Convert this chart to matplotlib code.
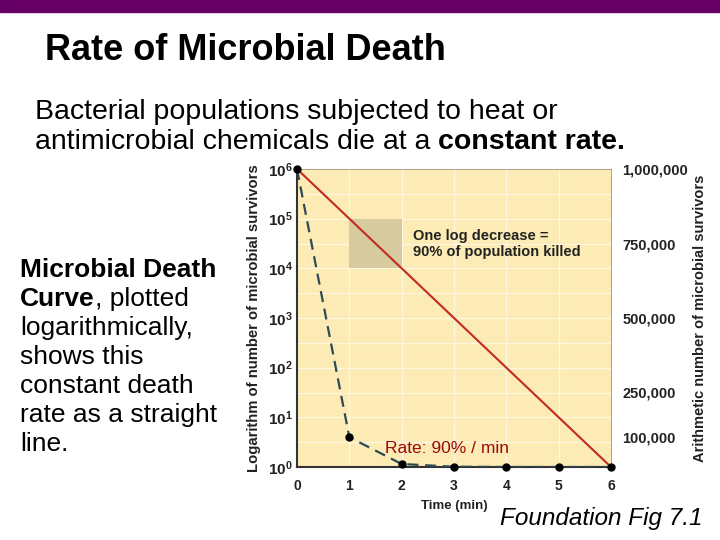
import numpy as np
import matplotlib
matplotlib.use("Agg")
from matplotlib import pyplot as plt
from matplotlib.patches import Rectangle

# data
time_min = [0, 1, 2, 3, 4, 5, 6]
log_survivors = [1e6, 1e5, 1e4, 1e3, 1e2, 1e1, 1e0]      # red line, log axis
arith_survivors = [1e6, 1e5, 1e4, 1e3, 1e2, 1e1, 1e0]    # blue dashed curve, linear axis
left_ticks = [1e0, 1e1, 1e2, 1e3, 1e4, 1e5, 1e6]
right_ticks = [100000, 250000, 500000, 750000, 1000000]
right_labels = ["100,000", "250,000", "500,000", "750,000", "1,000,000"]

W, H = 720, 540
plt.rcParams['font.family'] = ['Liberation Sans', 'DejaVu Sans']
plt.rcParams['mathtext.fontset'] = 'custom'
plt.rcParams['mathtext.bf'] = 'Liberation Sans:bold'
plt.rcParams['mathtext.rm'] = 'Liberation Sans'
fig = plt.figure(figsize=(W / 100, H / 100), dpi=100)

def px(x, y):
    return x / W, 1 - y / H

# purple bar on top of the slide
fig.patches.append(Rectangle((0, 1 - 12 / H), 1, 12 / H, transform=fig.transFigure,
                             color='#660066', zorder=0))

# chart
ax = fig.add_axes([297 / W, 1 - 467 / H, 314 / W, 298 / H])
ax.set_facecolor('#FCEBB5')
ax.set_yscale('log')
ax.set_xlim(0, 6)
ax.set_ylim(1, 1e6)

for k in range(13):
    ax.axhline(10 ** (k / 2), color='#FFF7E0', lw=0.9, zorder=1)
for t in time_min[1:-1]:
    ax.axvline(t, color='#FFF7E0', lw=0.9, zorder=1)

ax.add_patch(Rectangle((1, 1e4), 1, 9e4, color='#D6CA9E', zorder=2, lw=0))

ax.plot(time_min, log_survivors, color='#C42A1E', lw=1.5, zorder=4)

ax.set_xticks(time_min)
ax.set_xticklabels([str(t) for t in time_min], fontweight='bold', fontsize=10, color='#222222')
ax.set_yticks(left_ticks)
ax.set_yticklabels([r'$\mathbf{10^{%d}}$' % int(np.log10(v)) for v in left_ticks],
                   fontsize=11, color='#222222')
ax.yaxis.set_minor_locator(matplotlib.ticker.NullLocator())
ax.tick_params(axis='y', length=0, pad=3)
ax.tick_params(axis='x', length=0, pad=9)
ax.set_xlabel('Time (min)', fontweight='bold', fontsize=9.5, color='#222222', labelpad=5)
ax.set_ylabel('Logarithm of number of microbial survivors', fontweight='bold',
              fontsize=10.7, color='#222222', labelpad=5)
for s in ['left', 'bottom']:
    ax.spines[s].set_color('#333333')
    ax.spines[s].set_linewidth(1.5)
for s in ['top', 'right']:
    ax.spines[s].set_color('#A09070')
    ax.spines[s].set_linewidth(0.6)

ax.text(2.22, 10 ** 4.8, 'One log decrease =\n90% of population killed', fontsize=10.5,
        fontweight='bold', color='#222222', va='top', linespacing=1.2, zorder=5)
ax.text(1.68, 10 ** 0.28, 'Rate: 90% / min', fontsize=12.5, color='#9B0A0A', zorder=5)

ax2 = ax.twinx()
ax2.set_ylim(0, 1e6)
ax2.plot(time_min, arith_survivors, color='#2E4A58', lw=1.6, ls=(0, (5, 3)), zorder=3)
ax2.plot(time_min, arith_survivors, 'o', color='black', ms=5, zorder=6, clip_on=False)
ax2.set_yticks(right_ticks)
ax2.set_yticklabels(right_labels, fontweight='bold', fontsize=10.5, color='#222222')
ax2.tick_params(length=0, pad=8)
ax2.set_ylabel('Arithmetic number of microbial survivors', fontweight='bold',
               fontsize=10.5, color='#222222', labelpad=4)
for s in ax2.spines.values():
    s.set_visible(False)

# slide text
fig.text(*px(45, 51), 'Rate of Microbial Death', fontsize=26, fontweight='bold',
         va='center', ha='left')
fig.text(*px(35, 112), 'Bacterial populations subjected to heat or', fontsize=20.5,
         va='center', ha='left')
t1 = fig.text(*px(35, 142), 'antimicrobial chemicals die at a ', fontsize=20.5,
              va='center', ha='left')

left_lines = ['logarithmically,', 'shows this', 'constant death',
              'rate as a straight', 'line.']
t2 = fig.text(*px(20, 270), 'Microbial Death', fontsize=19, fontweight='bold',
              va='center', ha='left')
t3 = fig.text(*px(20, 299), 'Curve', fontsize=19, fontweight='bold',
              va='center', ha='left')
for i, line in enumerate(left_lines):
    fig.text(*px(20, 328 + 29 * i), line, fontsize=19, va='center', ha='left')

fig.text(*px(500, 518), 'Foundation Fig 7.1', fontsize=17.5, style='italic',
         va='center', ha='left')

fig.canvas.draw()
r = fig.canvas.get_renderer()
e1 = t1.get_window_extent(r)
fig.text(e1.x1 / W, 1 - 142 / H, 'constant rate.', fontsize=20.5, fontweight='bold',
         va='center', ha='left')
e3 = t3.get_window_extent(r)
fig.text(e3.x1 / W, 1 - 299 / H, ', plotted', fontsize=19, va='center', ha='left')

fig.savefig('out.png', dpi=100)
